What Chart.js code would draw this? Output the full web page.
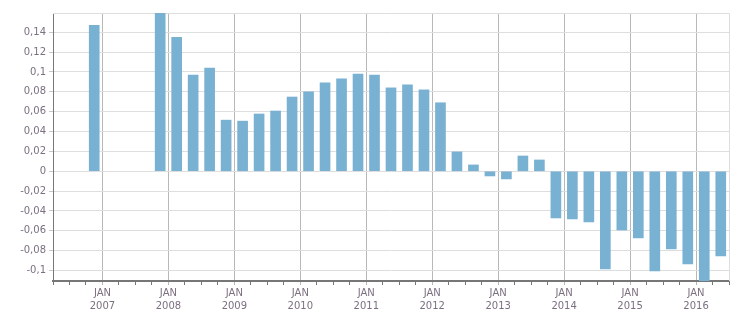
<!DOCTYPE html>
<html>
<head>
<meta charset="utf-8">
<script src="https://cdn.jsdelivr.net/npm/chart.js@4/dist/chart.umd.min.js"></script>
<style>
    body { margin: 0; background: #fff; }
    #wrap { width: 751px; height: 313px; }
</style>
</head>
<body>
<div id="wrap"><canvas id="canvas"></canvas></div>
<script>
"use strict"

/* Data: quarterly values, null where there is no bar */
let years = [2006, 2007, 2007, 2007, 2007, 2008, 2008, 2008, 2008, 2009, 2009, 2009, 2009,
    2010, 2010, 2010, 2010, 2011, 2011, 2011, 2011, 2012, 2012, 2012, 2012,
    2013, 2013, 2013, 2013, 2014, 2014, 2014, 2014, 2015, 2015, 2015, 2015, 2016, 2016];
let quarters = [4, 1, 2, 3, 4, 1, 2, 3, 4, 1, 2, 3, 4,
    1, 2, 3, 4, 1, 2, 3, 4, 1, 2, 3, 4,
    1, 2, 3, 4, 1, 2, 3, 4, 1, 2, 3, 4, 1, 2];
let values = [0.147, null, null, null, 0.165, 0.135, 0.097, 0.104, 0.0515,
    0.0505, 0.0577, 0.0607, 0.0748, 0.080, 0.089, 0.093, 0.098,
    0.097, 0.084, 0.087, 0.082, 0.069, 0.0195, 0.0064, -0.0047,
    -0.0077, 0.0154, 0.0114, -0.047, -0.048, -0.051, -0.0983, -0.0591,
    -0.0671, -0.1003, -0.0782, -0.0933, -0.118, -0.0852];

let tickMonth = "JAN";


/* Colors */
let barBlue = "#79b1d3";
let labelGrey = "#7b6f80";
let axisGrey = "#777777";
let yearLine = "#b8b8b8";
let gridLight = "#dedede";


let points = [];
values.forEach((v, i) => {
    points.push({ x: years[i] + (quarters[i] - 1) / 4 + 0.125, y: v });
});

function isYear(v) {
    return Math.abs(v - Math.round(v)) < 1e-6;
}

function tickVal(c) {
    return c.tick ? c.tick.value : 0.5;
}

// top and right edges of the plot
const frame = {
    id: "frame",
    beforeDatasetsDraw(chart) {
        const { ctx, chartArea: a } = chart;
        ctx.save();
        ctx.strokeStyle = gridLight;
        ctx.lineWidth = 1;
        ctx.beginPath();
        ctx.moveTo(a.left, a.top + 0.5);
        ctx.lineTo(a.right + 0.5, a.top + 0.5);
        ctx.lineTo(a.right + 0.5, a.bottom);
        ctx.stroke();
        ctx.restore();
    }
};

function createChart() {
    const canvas = document.getElementById("canvas").getContext("2d");
    new Chart(canvas, {
        type: "bar",
        data: {
            datasets: [{
                data: points,
                backgroundColor: barBlue,
                barThickness: 10,
                borderWidth: 0
            }]
        },
        plugins: [frame],
        options: {
            animation: false,
            maintainAspectRatio: false,
            layout: {
                padding: { top: 13, right: 22, left: 0, bottom: 0 }
            },
            scales: {
                x: {
                    type: "linear",
                    min: 2006.25,
                    max: 2016.5,
                    offset: false,
                    afterFit: scale => { scale.height = 32; },
                    border: { color: axisGrey, width: 2 },
                    grid: {
                        offset: false,
                        color: c => isYear(tickVal(c)) && tickVal(c) < 2016.5 ? yearLine : "rgba(0,0,0,0)",
                        tickColor: c => isYear(tickVal(c)) ? yearLine : axisGrey,
                        tickLength: 4
                    },
                    ticks: {
                        stepSize: 0.25,
                        autoSkip: false,
                        maxRotation: 0,
                        padding: 2,
                        color: labelGrey,
                        font: { family: "DejaVu Sans", size: 10, lineHeight: 1.3 },
                        callback: v => isYear(v) ? [tickMonth, String(Math.round(v))] : ""
                    }
                },
                y: {
                    min: -0.1105,
                    max: 0.1594,
                    afterFit: scale => { scale.width = 53; },
                    border: { color: axisGrey, width: 1 },
                    grid: {
                        color: gridLight,
                        tickColor: "#c8c8c8",
                        tickLength: 4
                    },
                    ticks: {
                        stepSize: 0.02,
                        includeBounds: false,
                        padding: 3,
                        color: labelGrey,
                        font: { family: "DejaVu Sans", size: 10 },
                        callback: v => String(Number(v.toFixed(2))).replace(".", ",")
                    }
                }
            },
            plugins: {
                legend: { display: false },
                tooltip: { enabled: false }
            }
        }
    });
}

createChart();
</script>
</body>
</html>
